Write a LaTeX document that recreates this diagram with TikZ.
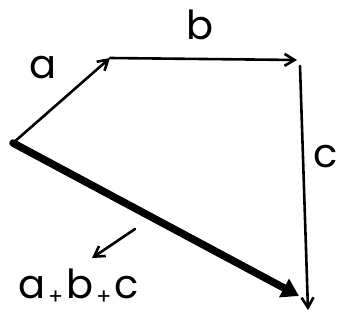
\documentclass[tikz,border=0pt]{standalone}
\usepackage{fontspec}
\setmainfont{Poppins}
\usetikzlibrary{arrows.meta}
\begin{document}
\begin{tikzpicture}[x=1pt,y=-1pt,
  vec/.style={line width=2.6pt,line cap=round,-{Straight Barb[length=10pt,width=12pt,line width=2.6pt]}},
  sumvec/.style={line width=7.5pt,line cap=round,-{Triangle[length=17pt,width=20pt]}},
  lab/.style={font=\fontsize{40}{40}\selectfont,inner sep=0pt}]
\useasboundingbox (0,0) rectangle (350,327);
\coordinate (O) at (13,143);
\coordinate (A) at (110,58);
\coordinate (B) at (297,60);
\coordinate (C0) at (300,66);
\coordinate (C) at (308,310);
\coordinate (S) at (299,296);
\coordinate (P0) at (135,229);
\coordinate (P1) at (92,258);
\draw[vec] (O) -- (A);
\draw[vec] (A) -- (B);
\draw[vec] (C0) -- (C);
\draw[sumvec] (O) -- (S);
\draw[vec] (P0) -- (P1);
\node[lab] (la) at (43,68) {a};
\node[lab] (lb) at (200,25) {b};
\node[lab] (lc) at (326,157) {c};
\node[lab,anchor=west] (ls) at (18,287) {a\kern3pt{\fontsize{22}{22}\selectfont\raisebox{-6pt}{+}}\kern3pt b\kern3pt{\fontsize{22}{22}\selectfont\raisebox{-6pt}{+}}\kern3pt c};
\end{tikzpicture}
\end{document}
